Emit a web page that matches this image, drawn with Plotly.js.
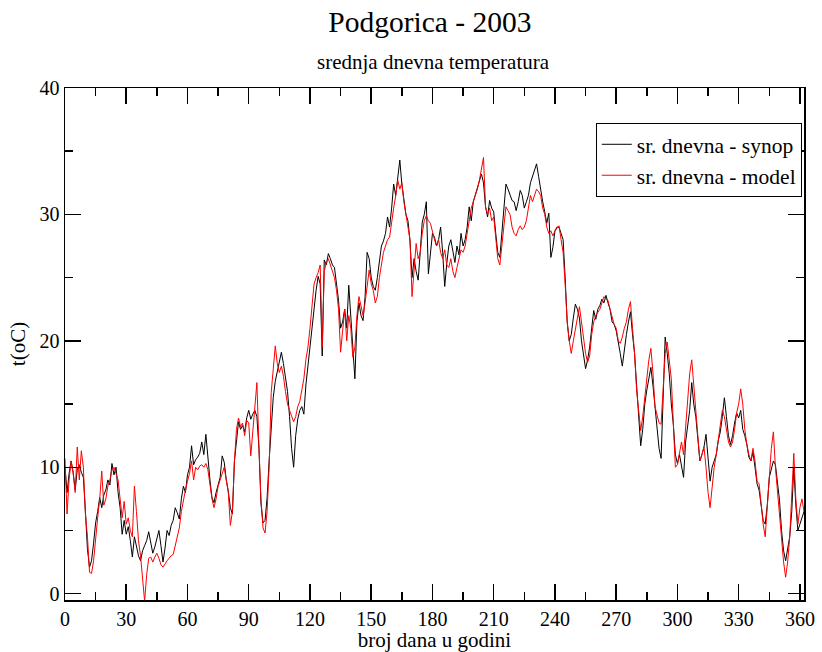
<!DOCTYPE html>
<html>
<head>
<meta charset="utf-8">
<script src="https://cdn.plot.ly/plotly-3.0.1.min.js"></script>
<style>html,body{margin:0;padding:0;background:#fff;}#chart{width:822px;height:652px;}</style>
</head>
<body>
<div id="chart"></div>
<script>
// day of year (0..364)
const days = Array.from({length: 365}, (_, i) => i);

// sr. dnevna - synop (observed daily mean temperature, °C)
const synop = [
  10.0, 8.0, 9.5, 10.5, 9.6, 8.2, 9.8, 10.2, 9.6, 9.2,
  6.5, 3.5, 2.1, 2.6, 4.0, 5.6, 6.5, 7.6, 6.8, 7.8,
  8.2, 9.0, 8.6, 10.3, 9.4, 10.0, 8.0, 6.8, 4.7, 5.8,
  4.7, 5.3, 4.2, 2.9, 4.5, 3.8, 3.0, 2.6, 3.4, 3.8,
  4.2, 4.9, 4.0, 3.2, 3.7, 4.4, 5.0, 3.8, 2.5, 3.6,
  5.0, 4.6, 5.4, 5.8, 6.8, 6.4, 5.9, 7.5, 8.5, 8.0,
  9.4, 10.0, 11.7, 10.2, 10.6, 10.8, 11.1, 12.0, 11.0, 12.6,
  10.5, 9.0, 7.6, 7.2, 8.0, 8.6, 9.2, 10.9, 10.4, 9.0,
  8.1, 6.8, 6.3, 10.5, 12.4, 13.6, 13.0, 13.3, 12.8, 13.9,
  14.5, 13.8, 14.2, 14.5, 14.0, 11.5, 7.1, 5.6, 5.8, 7.6,
  10.5, 13.4, 15.5, 16.8, 17.5, 18.4, 19.1, 18.2, 17.0, 16.0,
  14.0, 11.5, 10.0, 12.5, 13.8, 14.5, 14.8, 14.2, 16.5, 18.0,
  20.0, 21.5, 22.7, 24.0, 25.1, 24.5, 18.8, 26.4, 26.0, 26.9,
  26.5, 26.0, 25.8, 24.5, 23.2, 21.0, 21.5, 22.5, 21.0, 24.4,
  22.0, 20.0, 17.0, 21.5, 23.0, 22.0, 21.6, 23.5, 27.0, 26.5,
  25.0, 24.3, 24.0, 25.0, 26.5, 27.5, 27.9, 28.5, 29.8, 29.0,
  30.5, 32.4, 31.5, 33.0, 34.3, 32.4, 31.0, 30.0, 29.5, 27.9,
  25.0, 26.5, 25.5, 24.8, 27.0, 29.4, 30.0, 31.0, 25.3, 27.0,
  28.5, 28.2, 27.5, 28.0, 29.0, 27.0, 24.3, 26.1, 27.5, 28.0,
  27.0, 26.2, 27.5, 26.8, 28.5, 27.5, 28.0, 29.0, 30.6, 29.5,
  31.0, 31.6, 32.0, 32.8, 33.2, 32.5, 30.6, 29.8, 31.1, 30.5,
  30.2, 28.5, 27.0, 26.6, 28.5, 31.0, 32.4, 32.0, 31.5, 31.1,
  31.0, 30.3, 31.0, 31.9, 31.5, 30.5, 31.0, 31.5, 32.5, 33.0,
  33.5, 34.0, 33.0, 31.9, 31.0, 30.2, 29.3, 30.1, 26.6, 27.4,
  28.7, 29.0, 29.0, 28.5, 28.0, 25.0, 21.5, 20.0, 20.5, 21.8,
  22.9, 22.5, 21.8, 20.0, 19.0, 17.8, 18.5, 19.5, 21.0, 22.4,
  21.7, 22.5, 22.8, 23.3, 23.0, 23.6, 23.0, 22.5, 21.5, 21.3,
  20.8, 20.0, 19.0, 18.0, 19.5, 20.5, 21.5, 22.3, 20.5, 19.0,
  16.5, 14.0, 11.7, 13.0, 15.0, 16.1, 17.0, 17.9, 16.5, 14.8,
  12.8, 11.5, 10.7, 15.0, 20.3, 19.0, 17.4, 15.0, 13.4, 11.0,
  10.3, 11.0, 10.0, 9.2, 12.0, 13.4, 14.5, 16.7, 15.0, 14.0,
  12.0, 10.5, 11.0, 11.6, 12.6, 10.5, 8.9, 10.0, 10.5, 11.0,
  12.1, 12.8, 14.0, 15.5, 14.0, 12.5, 11.8, 12.5, 13.5, 14.3,
  13.9, 14.5, 13.0, 12.5, 11.8, 10.8, 10.5, 11.2, 10.0, 8.7,
  8.2, 7.0, 5.8, 5.5, 7.0, 9.2, 10.0, 10.5, 10.2, 8.5,
  7.4, 5.0, 3.4, 2.6, 3.5, 4.5, 6.5, 10.0, 7.0, 5.0,
  5.5, 6.0, 6.5, 6.0, 6.2
];

// sr. dnevna - model (modelled daily mean temperature, °C)
const model = [
  10.7, 6.3, 9.0, 10.5, 9.5, 8.0, 11.6, 9.0, 11.3, 10.0,
  6.3, 4.5, 1.7, 1.6, 2.6, 4.5, 6.0, 7.5, 9.7, 7.0,
  7.5, 8.5, 9.0, 9.8, 10.0, 9.5, 9.0, 7.5, 6.0, 7.3,
  5.5, 6.0, 5.0, 4.5, 8.5, 6.5, 4.2, 3.0, 1.0, -0.6,
  1.5, 2.8, 2.9, 2.5, 2.9, 3.2, 2.8, 2.3, 2.1, 2.4,
  2.6, 2.8, 3.0, 3.1, 3.8, 4.5, 5.2, 6.5, 7.5, 8.2,
  8.9, 9.5, 10.5, 9.0, 10.0, 9.8, 10.1, 10.2, 10.0, 10.3,
  9.8, 8.5, 7.5, 6.8, 7.5, 8.5, 9.0, 9.5, 10.0, 9.0,
  8.0, 5.4, 6.5, 10.5, 13.0, 13.9, 13.2, 13.5, 12.5, 13.7,
  13.5, 10.9, 13.0, 14.5, 16.7, 11.6, 7.5, 5.2, 4.8, 6.5,
  10.0, 15.9, 18.0, 19.6, 18.2, 17.5, 18.0, 17.2, 16.0, 15.0,
  14.5, 14.0, 13.6, 14.0, 14.8, 15.2, 16.0, 17.0, 18.5, 19.5,
  21.0, 23.0, 24.5, 25.0, 25.4, 26.0, 19.5, 25.5, 26.2, 26.5,
  26.0, 25.5, 25.0, 24.0, 22.5, 19.1, 21.0, 22.5, 20.0, 22.0,
  21.0, 18.7, 19.5, 22.0, 23.5, 22.8, 22.0, 23.0, 24.5, 25.6,
  24.5, 24.0, 23.0, 23.5, 25.0, 26.0, 27.0, 27.5, 28.0, 28.2,
  29.5, 30.5, 31.5, 32.7, 32.0, 32.5, 31.0, 30.0, 29.0, 28.0,
  23.5, 25.5, 27.7, 26.5, 27.0, 28.5, 29.5, 29.9, 29.5, 29.3,
  28.5, 28.0, 27.5, 28.0, 27.0, 26.5, 27.2, 26.0, 25.8, 26.5,
  25.5, 25.0, 25.8, 26.5, 27.2, 27.0, 27.5, 28.5, 29.5, 30.5,
  31.0, 31.5, 32.0, 32.7, 33.5, 34.5, 30.6, 30.0, 30.5, 29.5,
  29.8, 28.0, 26.5, 26.0, 27.5, 29.5, 30.6, 30.3, 30.0, 29.0,
  28.5, 28.3, 28.8, 29.1, 28.8, 29.0, 29.5, 30.5, 31.5, 31.0,
  31.5, 32.0, 31.8, 31.5, 30.5, 30.0, 29.0, 28.5, 28.7, 28.3,
  28.7, 28.9, 29.1, 28.0, 27.0, 24.5, 21.5, 20.0, 19.0, 20.0,
  21.0, 21.8, 22.7, 21.5, 20.0, 19.0, 18.3, 18.8, 20.5, 21.5,
  22.0, 22.3, 22.5, 23.0, 23.5, 23.3, 23.2, 22.5, 21.8, 21.3,
  21.0, 20.0, 19.8, 20.3, 21.0, 21.5, 22.5, 23.1, 21.0, 19.0,
  16.1, 14.5, 12.9, 14.0, 15.5, 17.0, 18.5, 19.4, 17.5, 14.8,
  14.0, 13.5, 13.4, 16.0, 19.0, 19.9, 18.5, 17.0, 13.4, 10.0,
  10.2, 11.0, 12.0, 11.0, 13.4, 15.5, 17.4, 18.5, 16.5, 14.2,
  12.5, 10.5, 11.0, 11.6, 10.0, 8.0, 6.8, 8.5, 10.0, 11.0,
  12.1, 13.0, 14.5, 14.0, 13.0, 12.0, 11.6, 12.0, 13.0, 14.3,
  15.0, 16.2, 15.0, 13.0, 11.8, 11.0, 10.5, 11.5, 10.5, 8.9,
  8.7, 7.0, 5.5, 4.5, 6.5, 9.2, 11.5, 12.8, 10.0, 8.0,
  6.5, 4.0, 2.5, 1.3, 2.5, 4.5, 7.4, 11.1, 7.5, 5.5,
  6.8, 7.5, 6.5, 6.0, 6.5
];

const seriesNames = ['sr. dnevna - synop', 'sr. dnevna - model'];
const xTickVals = [0, 30, 60, 90, 120, 150, 180, 210, 240, 270, 300, 330, 360];
const yTickVals = [0, 10, 20, 30, 40];

const serif = 'Liberation Serif, Times New Roman, serif';

const traces = [
  {x: days, y: synop, name: seriesNames[0], type: 'scatter', mode: 'lines',
   line: {color: '#000000', width: 1}},
  {x: days, y: model, name: seriesNames[1], type: 'scatter', mode: 'lines',
   line: {color: '#ff0000', width: 1}}
];

const axisCommon = {
  showline: true, linecolor: '#000', linewidth: 1.5, mirror: 'ticks',
  ticks: 'inside', ticklen: 16, tickwidth: 1.5, tickcolor: '#000',
  showgrid: false, zeroline: false,
  tickfont: {family: serif, size: 20, color: '#000'}
};

const layout = {
  width: 822, height: 652,
  paper_bgcolor: '#fff', plot_bgcolor: '#fff',
  margin: {l: 65, r: 18, t: 88, b: 52},
  showlegend: true,
  title: {text: 'Podgorica - 2003', font: {family: serif, size: 29.5, color: '#000'},
          x: 0.523, xref: 'container', xanchor: 'center',
          y: 0.966, yref: 'container', yanchor: 'middle'},
  xaxis: Object.assign({}, axisCommon, {
    range: [0, 362], tickvals: xTickVals,
    minor: {dtick: 15, tick0: 0, ticks: 'inside', ticklen: 8, tickwidth: 1.5, tickcolor: '#000'},
    title: {text: 'broj dana u godini', font: {family: serif, size: 21, color: '#000'}, standoff: 5}
  }),
  yaxis: Object.assign({}, axisCommon, {
    range: [-0.5, 40], tickvals: yTickVals,
    minor: {dtick: 5, tick0: 0, ticks: 'inside', ticklen: 8, tickwidth: 1.5, tickcolor: '#000'},
    title: {text: 't(oC)', font: {family: serif, size: 21, color: '#000'}, standoff: 8}
  }),
  legend: {
    x: 0.997, xanchor: 'right', y: 0.932, yanchor: 'top',
    bgcolor: '#fff', bordercolor: '#000', borderwidth: 1,
    font: {family: serif, size: 21.5, color: '#000'},
    tracegroupgap: 0
  },
  annotations: [
    {text: 'srednja dnevna temperatura', xref: 'paper', yref: 'paper',
     x: 0.498, y: 1.0508, xanchor: 'center', yanchor: 'middle', showarrow: false,
     font: {family: serif, size: 21, color: '#000'}}
  ]
};

Plotly.newPlot('chart', traces, layout, {displayModeBar: false, staticPlot: true});
</script>
</body>
</html>
